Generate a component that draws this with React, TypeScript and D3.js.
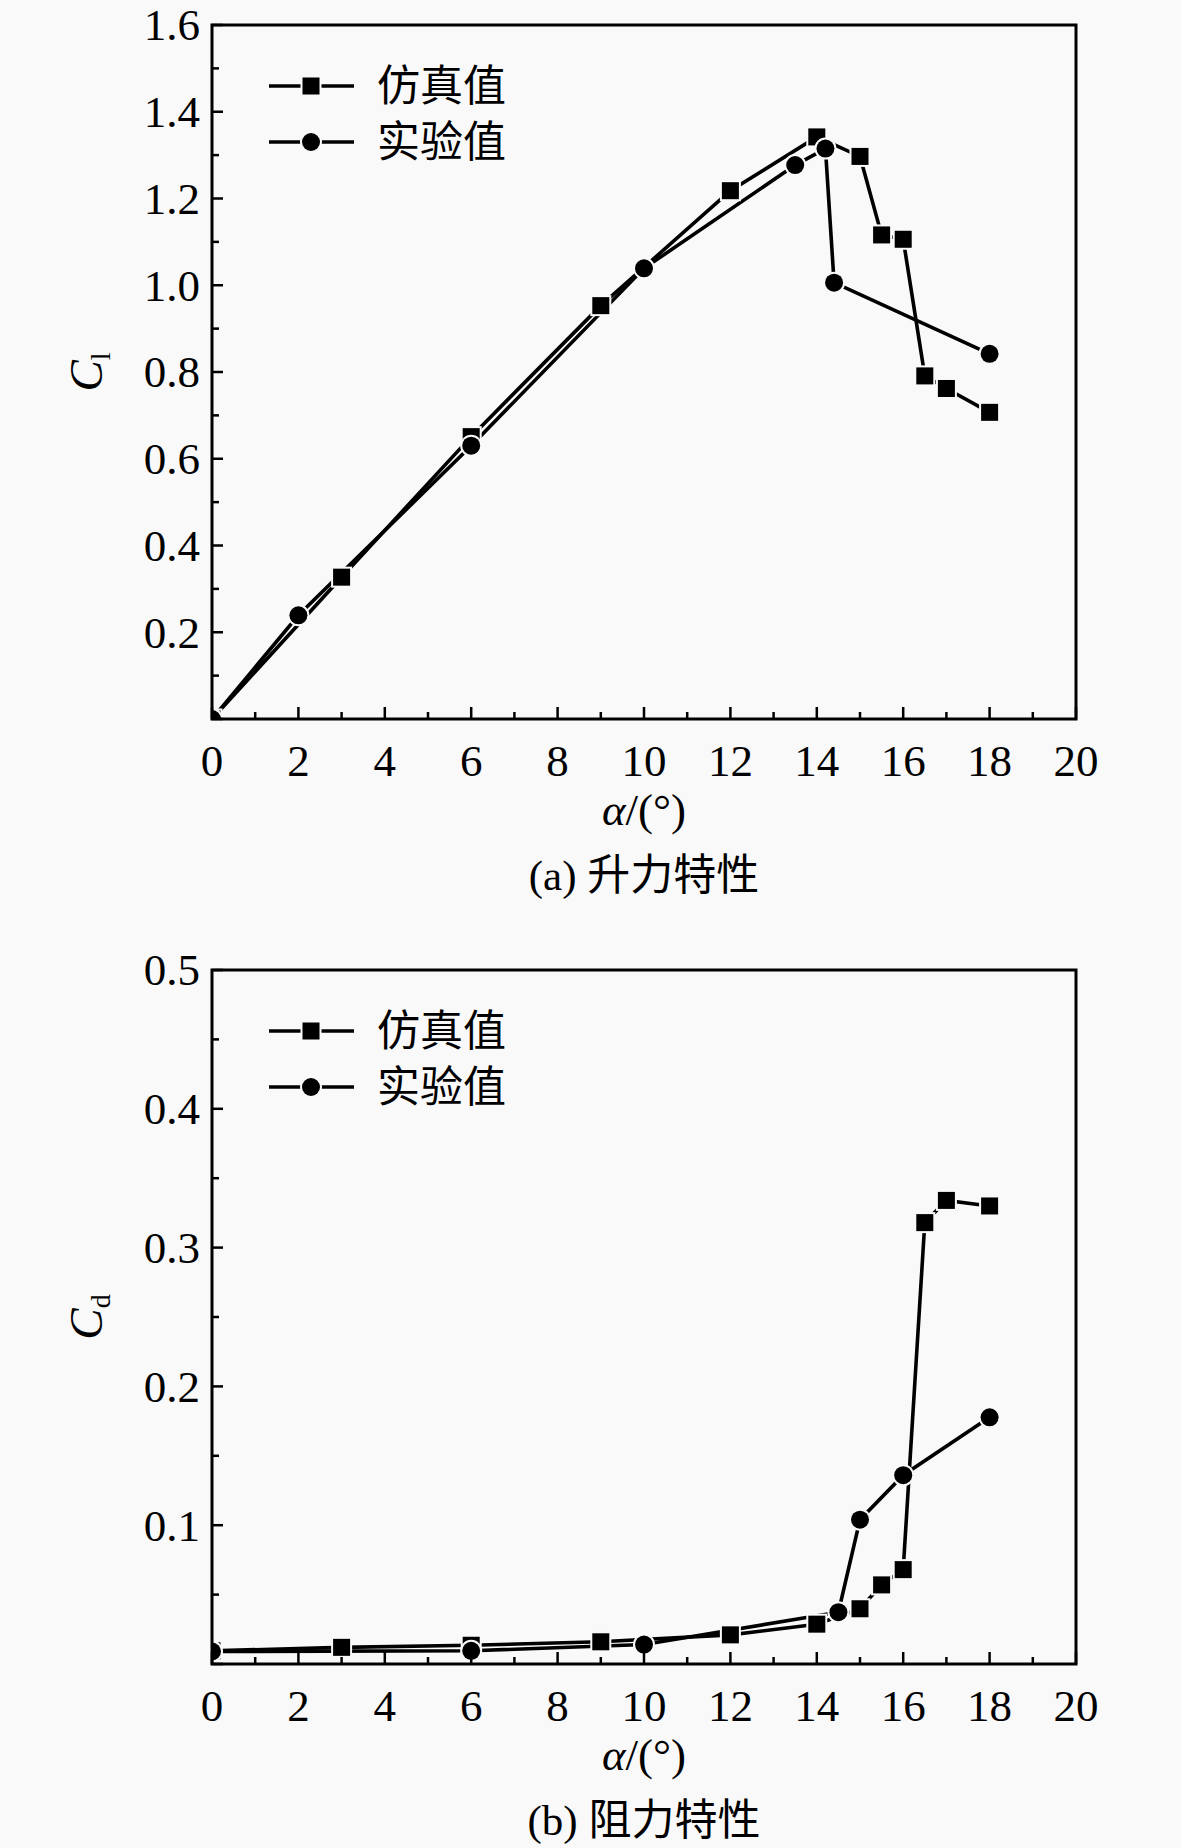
import * as d3 from "d3";

// lift characteristics (a)
const liftSimAlpha = [0, 3, 6, 9, 12, 14, 15, 15.5, 16, 16.5, 17, 18];
const liftSimCl = [0, 0.327, 0.651, 0.953, 1.218, 1.342, 1.297, 1.116, 1.106, 0.791, 0.762, 0.707];
const liftExpAlpha = [0, 2, 6, 10, 13.5, 14.2, 14.4, 18];
const liftExpCl = [0, 0.239, 0.63, 1.039, 1.277, 1.315, 1.006, 0.842];

// drag characteristics (b)
const dragSimAlpha = [0, 3, 6, 9, 12, 14, 15, 15.5, 16, 16.5, 17, 18];
const dragSimCd = [0.0095, 0.012, 0.0135, 0.016, 0.021, 0.0287, 0.0398, 0.057, 0.068, 0.318, 0.334, 0.33];
const dragExpAlpha = [0, 6, 10, 14.5, 15, 16, 18];
const dragExpCd = [0.009, 0.0095, 0.014, 0.0373, 0.104, 0.136, 0.1777];

const xTicks = [0, 2, 4, 6, 8, 10, 12, 14, 16, 18, 20];
const liftYTicks = [0.2, 0.4, 0.6, 0.8, 1.0, 1.2, 1.4, 1.6];
const dragYTicks = [0.1, 0.2, 0.3, 0.4, 0.5];

const legendLabels = ["仿真值", "实验值"];

const W = 1181;
const H = 1848;
const left = 212;
const right = 1076;
const serif = "'Liberation Serif', 'Times New Roman', 'Noto Sans CJK SC', serif";
const cjk = "'Liberation Serif', 'Noto Sans CJK SC', serif";
const bg = "#f9f9f9";

type Pt = [number, number];

const zip = (xs: number[], ys: number[]): Pt[] => xs.map((x, i) => [x, ys[i]]);

type PanelProps = {
    id: string;
    top: number;
    bottom: number;
    yMax: number;
    yTicks: number[];
    yMinorStep: number;
    yFmt: (v: number) => string;
    sim: Pt[];
    exp: Pt[];
    sub: string;
    caption: [string, string];
};

const Square = ({ x, y }: { x: number; y: number }) => (
    <rect
        x={x - 8.5}
        y={y - 8.5}
        width={17}
        height={17}
        fill="#000"
        stroke={bg}
        strokeWidth={4}
        style={{ paintOrder: "stroke" }}
    />
);

const Dot = ({ x, y }: { x: number; y: number }) => (
    <circle cx={x} cy={y} r={9} fill="#000" stroke={bg} strokeWidth={4} style={{ paintOrder: "stroke" }} />
);

const Panel = ({ id, top, bottom, yMax, yTicks, yMinorStep, yFmt, sim, exp, sub, caption }: PanelProps) => {
    const x = d3.scaleLinear().domain([0, 20]).range([left, right]);
    const y = d3.scaleLinear().domain([0, yMax]).range([bottom, top]);
    const line = d3
        .line<Pt>()
        .x((d) => x(d[0]))
        .y((d) => y(d[1]));

    const xMinor = d3.range(0, 20.001, 1);
    const yMinor = d3.range(0, yMax + 1e-9, yMinorStep);
    const legendY = [top + 61, top + 117];

    return (
        <g>
            <defs>
                <clipPath id={id}>
                    <rect x={left} y={top} width={right - left} height={bottom - top} />
                </clipPath>
            </defs>

            <g clipPath={`url(#${id})`}>
                <path d={line(sim) ?? ""} fill="none" stroke="#000" strokeWidth={3.6} />
                <path d={line(exp) ?? ""} fill="none" stroke="#000" strokeWidth={3.6} />
                {sim.map((d, i) => (
                    <Square key={`s${i}`} x={x(d[0])} y={y(d[1])} />
                ))}
                {exp.map((d, i) => (
                    <Dot key={`e${i}`} x={x(d[0])} y={y(d[1])} />
                ))}
            </g>

            {/* minor + major ticks, inward on left and bottom */}
            {xMinor.map((t) => (
                <line key={`xm${t}`} x1={x(t)} x2={x(t)} y1={bottom} y2={bottom - (t % 2 === 0 ? 12 : 7)} stroke="#000" strokeWidth={2.5} />
            ))}
            {yMinor.map((t, i) => (
                <line key={`ym${i}`} x1={left} x2={left + (i % 2 === 0 ? 11 : 7)} y1={y(t)} y2={y(t)} stroke="#000" strokeWidth={2.5} />
            ))}

            <rect x={left} y={top} width={right - left} height={bottom - top} fill="none" stroke="#000" strokeWidth={3} />

            {xTicks.map((t) => (
                <text key={`xl${t}`} x={x(t)} y={bottom + 57} textAnchor="middle" fontFamily={serif} fontSize={45}>
                    {t}
                </text>
            ))}
            {yTicks.map((t) => (
                <text key={`yl${t}`} x={left - 12} y={y(t)} dy="0.34em" textAnchor="end" fontFamily={serif} fontSize={45}>
                    {yFmt(t)}
                </text>
            ))}

            <text
                transform={`translate(102,${(top + bottom) / 2}) rotate(-90)`}
                textAnchor="middle"
                fontFamily={serif}
                fontSize={47}
            >
                <tspan fontStyle="italic">C</tspan>
                <tspan fontSize={28} dy={8}>
                    {sub}
                </tspan>
            </text>

            <text x={(left + right) / 2} y={bottom + 106} textAnchor="middle" fontFamily={serif} fontSize={45}>
                <tspan fontStyle="italic">α</tspan>/(°)
            </text>
            <text x={(left + right) / 2} y={bottom + 171} textAnchor="middle" fontFamily={cjk} fontSize={43}>
                {caption[0]} {caption[1]}
            </text>

            {legendLabels.map((lab, i) => (
                <g key={lab}>
                    <line x1={269} x2={354} y1={legendY[i]} y2={legendY[i]} stroke="#000" strokeWidth={3.6} />
                    {i === 0 ? <Square x={311} y={legendY[i]} /> : <Dot x={311} y={legendY[i]} />}
                    <text x={377} y={legendY[i]} dy="0.36em" fontFamily={cjk} fontSize={43}>
                        {lab}
                    </text>
                </g>
            ))}
        </g>
    );
};

export default function App() {
    return (
        <svg
            width={W}
            height={H}
            viewBox={`0 0 ${W} ${H}`}
            style={{ position: "absolute", left: 0, top: 0, background: bg }}
        >
            <rect width={W} height={H} fill={bg} />
            <Panel
                id="clipA"
                top={25}
                bottom={719}
                yMax={1.6}
                yTicks={liftYTicks}
                yMinorStep={0.1}
                yFmt={(v) => v.toFixed(1)}
                sim={zip(liftSimAlpha, liftSimCl)}
                exp={zip(liftExpAlpha, liftExpCl)}
                sub="l"
                caption={["(a)", "升力特性"]}
            />
            <Panel
                id="clipB"
                top={970}
                bottom={1664}
                yMax={0.5}
                yTicks={dragYTicks}
                yMinorStep={0.05}
                yFmt={(v) => v.toFixed(1)}
                sim={zip(dragSimAlpha, dragSimCd)}
                exp={zip(dragExpAlpha, dragExpCd)}
                sub="d"
                caption={["(b)", "阻力特性"]}
            />
        </svg>
    );
}
